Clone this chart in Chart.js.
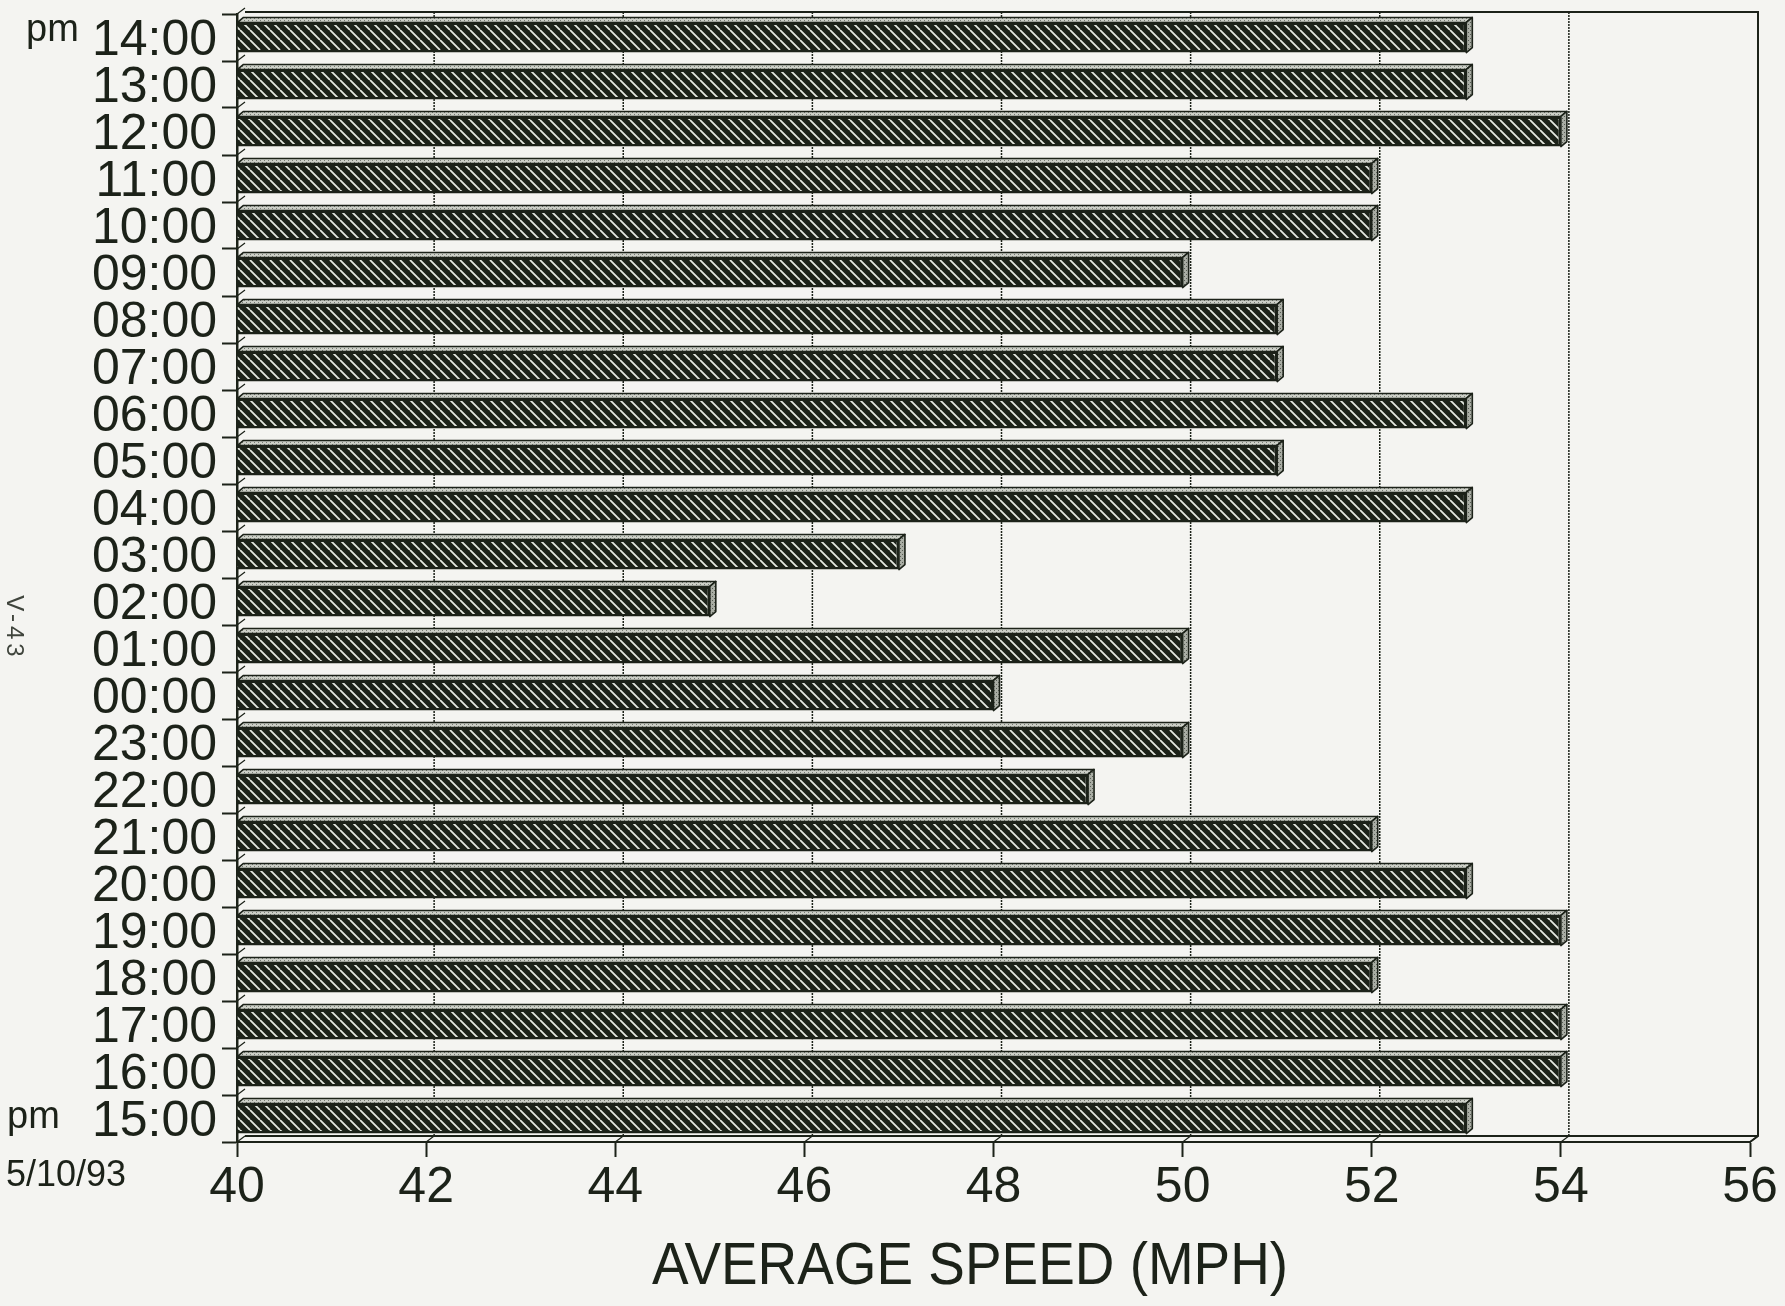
<!DOCTYPE html>
<html>
<head>
<meta charset="utf-8">
<title>Average speed by hour</title>
<script src="https://cdn.jsdelivr.net/npm/chart.js@4.4.1/dist/chart.umd.min.js"></script>
<style>
  html, body { margin: 0; padding: 0; background: #f4f4f1; }
  #wrap { width: 1785px; height: 1306px; }
</style>
</head>
<body>
<div id="wrap"><canvas id="speed-chart" width="1785" height="1306"></canvas></div>
<script>
// hourly averages, oldest first: 15:00 on 5/10/93 through 14:00 the next day
const hours = ['15:00', '16:00', '17:00', '18:00', '19:00', '20:00', '21:00', '22:00',
  '23:00', '00:00', '01:00', '02:00', '03:00', '04:00', '05:00', '06:00', '07:00',
  '08:00', '09:00', '10:00', '11:00', '12:00', '13:00', '14:00'];
const avgSpeed = [53, 54, 54, 52, 54, 53, 52, 49, 50, 48, 50, 45, 47, 53, 51, 53, 51,
  51, 50, 52, 52, 54, 53, 53];
const speedTicks = [40, 42, 44, 46, 48, 50, 52, 54, 56];
const axisTitle = 'AVERAGE SPEED (MPH)';
const periodMark = 'pm';
const startDate = '5/10/93';
const pageRef = 'V-43';

const INK = '#1c2219';
const FONT = "'Liberation Sans', Arial, sans-serif";
const FLOOR_DX = 8, FLOOR_DY = 6;   // depth of the back wall / floor
const BAR_DX = 6, BAR_DY = 5;       // depth of each bar

Chart.defaults.font.family = FONT;
Chart.defaults.color = INK;

function hatchPattern(ctx) {
    const size = 10;
    const c = document.createElement('canvas');
    c.width = size; c.height = size;
    const g = c.getContext('2d');
    g.fillStyle = INK;
    g.fillRect(0, 0, size, size);
    g.strokeStyle = '#e4e8e0';
    g.lineWidth = 1.8;
    g.beginPath();
    for (const o of [-size, 0, size]) {
        g.moveTo(o, 0);
        g.lineTo(o + size, size);
    }
    g.stroke();
    return ctx.createPattern(c, 'repeat');
}

function stipple(ctx, base, dot) {
    const c = document.createElement('canvas');
    c.width = 4; c.height = 4;
    const g = c.getContext('2d');
    g.fillStyle = base;
    g.fillRect(0, 0, 4, 4);
    g.fillStyle = dot;
    g.fillRect(0, 0, 1, 1);
    g.fillRect(2, 2, 1, 1);
    return ctx.createPattern(c, 'repeat');
}

// back wall, floor and dotted grid, drawn behind the bars
const wallPlugin = {
    id: 'wall',
    beforeDatasetsDraw(chart) {
        const { ctx, chartArea: a, scales } = chart;
        const backTop = a.top - 2;
        const backBottom = a.bottom - FLOOR_DY;
        ctx.save();
        ctx.strokeStyle = INK;

        // dotted grid on the back wall
        ctx.lineWidth = 1.5;
        ctx.setLineDash([2, 1]);
        ctx.beginPath();
        scales.x.ticks.slice(1, -1).forEach(t => {
            const px = scales.x.getPixelForValue(t.value) + FLOOR_DX;
            ctx.moveTo(px, backTop);
            ctx.lineTo(px, backBottom);
        });
        ctx.stroke();
        ctx.setLineDash([]);

        // wall outline and floor
        ctx.lineWidth = 2;
        ctx.beginPath();
        ctx.moveTo(a.left + FLOOR_DX, backTop);
        ctx.lineTo(a.right + FLOOR_DX, backTop);
        ctx.lineTo(a.right + FLOOR_DX, backBottom);
        ctx.lineTo(a.right, a.bottom);
        ctx.moveTo(a.left + FLOOR_DX, backBottom);
        ctx.lineTo(a.right + FLOOR_DX, backBottom);
        ctx.stroke();

        // small joints where the ticks meet the wall
        ctx.lineWidth = 1.2;
        ctx.beginPath();
        scales.x.ticks.forEach(t => {
            const px = scales.x.getPixelForValue(t.value);
            ctx.moveTo(px, a.bottom);
            ctx.lineTo(px + FLOOR_DX, backBottom);
        });
        const step = (a.bottom - a.top) / hours.length;
        for (let i = 0; i <= hours.length; i++) {
            const py = a.top + i * step;
            ctx.moveTo(a.left, py);
            ctx.lineTo(a.left + FLOOR_DX, py - FLOOR_DY);
        }
        ctx.stroke();
        ctx.restore();
    }
};

// top and end faces that give each bar its depth
const depthPlugin = {
    id: 'barDepth',
    afterDatasetsDraw(chart) {
        const ctx = chart.ctx;
        const topFill = stipple(ctx, '#cdd0c8', '#737870');
        const endFill = stipple(ctx, '#a9ada4', '#575c54');
        ctx.save();
        ctx.strokeStyle = INK;
        ctx.lineWidth = 1.6;
        ctx.lineJoin = 'round';
        chart.getDatasetMeta(0).data.forEach(bar => {
            const { x, y, base, height } = bar.getProps(['x', 'y', 'base', 'height'], true);
            const t = y - height / 2, b = y + height / 2;
            ctx.beginPath();
            ctx.moveTo(base, t);
            ctx.lineTo(base + BAR_DX, t - BAR_DY);
            ctx.lineTo(x + BAR_DX, t - BAR_DY);
            ctx.lineTo(x, t);
            ctx.closePath();
            ctx.fillStyle = topFill;
            ctx.fill();
            ctx.stroke();
            ctx.beginPath();
            ctx.moveTo(x, t);
            ctx.lineTo(x + BAR_DX, t - BAR_DY);
            ctx.lineTo(x + BAR_DX, b - BAR_DY);
            ctx.lineTo(x, b);
            ctx.closePath();
            ctx.fillStyle = endFill;
            ctx.fill();
            ctx.stroke();
        });
        ctx.restore();
    }
};

// axis title, am/pm marks, start date and page number
const notesPlugin = {
    id: 'notes',
    afterDraw(chart) {
        const { ctx } = chart;
        const ys = chart.scales.y;
        ctx.save();
        ctx.fillStyle = INK;
        ctx.textAlign = 'left';
        ctx.textBaseline = 'alphabetic';
        ctx.font = '38px ' + FONT;
        ctx.fillText(periodMark, 26, ys.getPixelForValue(hours.length - 1) + 3);
        ctx.fillText(periodMark, 7, ys.getPixelForValue(0) + 9);
        ctx.font = '36px ' + FONT;
        ctx.fillText(startDate, 6, 1186);

        // the title type is a little narrower than the regular face
        ctx.save();
        ctx.translate(970, 1284);
        ctx.scale(0.93, 1);
        ctx.font = '59px ' + FONT;
        ctx.textAlign = 'center';
        ctx.fillText(axisTitle, 0, 0);
        ctx.restore();

        ctx.translate(14, 626);
        ctx.rotate(Math.PI / 2);
        ctx.fillStyle = '#3f443c';
        ctx.font = '24px ' + FONT;
        ctx.letterSpacing = '4px';
        ctx.textAlign = 'center';
        ctx.textBaseline = 'middle';
        ctx.fillText(pageRef, 2, 0);
        ctx.restore();
    }
};

const canvas = document.getElementById('speed-chart');
const hatch = hatchPattern(canvas.getContext('2d'));

new Chart(canvas, {
    type: 'bar',
    data: {
        labels: hours,
        datasets: [{
            data: avgSpeed,
            base: speedTicks[0],
            backgroundColor: hatch,
            borderColor: INK,
            borderWidth: 2.5,
            barPercentage: 0.64,
            categoryPercentage: 1
        }]
    },
    options: {
        indexAxis: 'y',
        responsive: false,
        animation: false,
        devicePixelRatio: 1,
        layout: { autoPadding: false, padding: { top: 14, right: 35, bottom: 0, left: 0 } },
        plugins: { legend: { display: false }, tooltip: { enabled: false } },
        scales: {
            x: {
                min: speedTicks[0],
                max: speedTicks[speedTicks.length - 1],
                afterBuildTicks: s => { s.ticks = speedTicks.map(v => ({ value: v })); },
                afterFit: s => {
                    s.height = 164;
                    s.paddingLeft = 0; s.paddingRight = 0;
                },
                grid: { drawOnChartArea: false, tickLength: 15, tickColor: INK, tickWidth: 2 },
                border: { display: true, color: INK, width: 2 },
                ticks: { padding: 1, font: { size: 50 }, color: INK, maxRotation: 0 }
            },
            y: {
                reverse: true,
                afterFit: s => {
                    s.width = 237;
                    s.paddingTop = 0; s.paddingBottom = 0;
                },
                grid: { drawOnChartArea: false, offset: true, tickLength: 15, tickColor: INK, tickWidth: 2 },
                border: { display: true, color: INK, width: 2.5 },
                ticks: { autoSkip: false, padding: 5, labelOffset: 4, font: { size: 50 }, color: INK }
            }
        }
    },
    plugins: [wallPlugin, depthPlugin, notesPlugin]
});
</script>
</body>
</html>
